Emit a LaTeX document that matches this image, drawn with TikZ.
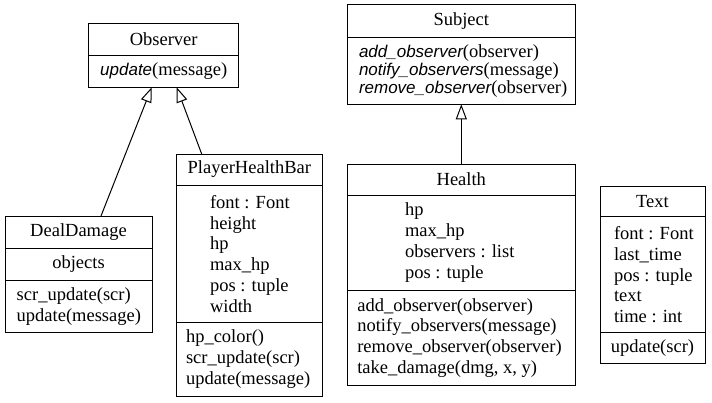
\documentclass[tikz,border=0pt]{standalone}
\usepackage{fontspec}
\setmainfont{Liberation Serif}
\newfontfamily\itfam{Liberation Sans}
\usetikzlibrary{arrows.meta,calc}
\newcommand\slnt[1]{{\itfam\itshape\fontsize{17}{18}\selectfont #1}}
\begin{document}
\begin{tikzpicture}[x=1pt,y=-1pt,line width=1pt,
  every node/.style={font=\fontsize{18.5}{20.8}\selectfont},
  part/.style 2 args={draw, inner sep=0pt, outer sep=0pt, anchor=north west,
    minimum width=#1, minimum height=#2},
  lines/.style={inner sep=0pt, outer sep=0pt, anchor=west, align=left},
  inh/.style={-{Triangle[open,length=15pt,width=11pt]}}]
\fill[white] (0,0) rectangle (712,402);
\useasboundingbox (0,0) rectangle (712,402);

% Observer
\node[part={150}{32}] (obsh) at (88.7,23.3) {Observer};
\node[part={150}{32}] (obsm) at (88.7,55.3) {\slnt{update}(message)};

% DealDamage
\node[part={147}{32.3}] (ddh) at (5,216) {DealDamage};
\node[part={147}{31.7}] (dda) at (5,248.3) {objects};
\node[part={147}{52.7}] (ddm) at (5,280) {};
\node[lines] (ddmt) at (16.7,306.3) {scr\_update(scr)\\update(message)};

% PlayerHealthBar
\node[part={146.7}{31}] (phbh) at (176,154) {PlayerHealthBar};
\node[part={146.7}{137.7}] (phba) at (176,185) {};
\node[lines] (phbat) at (210,253.8) {font : Font\\height\\hp\\max\_hp\\pos : tuple\\width};
\node[part={146.7}{73.3}] (phbm) at (176,322.7) {};
\node[lines] (phbmt) at (186,359.3) {hp\_color()\\scr\_update(scr)\\update(message)};

% Subject
\node[part={228}{32.6}] (subh) at (347.3,4.7) {Subject};
\node[part={228}{67}] (subm) at (347.3,37.3) {};
\node[lines,font=\fontsize{18.5}{17.8}\selectfont] (submt) at (359,70.8)
  {\slnt{add\_observer}(observer)\\\slnt{notify\_observers}(message)\\\slnt{remove\_observer}(observer)};

% Health
\node[part={228}{31}] (hh) at (347.3,164) {Health};
\node[part={228}{95}] (ha) at (347.3,195) {};
\node[lines] (hat) at (405,242.5) {hp\\max\_hp\\observers : list\\pos : tuple};
\node[part={228}{95.7}] (hm) at (347.3,290) {};
\node[lines] (hmt) at (357.3,337.8) {add\_observer(observer)\\notify\_observers(message)\\remove\_observer(observer)\\take\_damage(dmg, x, y)};

% Text
\node[part={105}{30.7}] (th) at (600,186) {Text};
\node[part={105}{116}] (ta) at (600,216.7) {};
\node[lines] (tat) at (614,274.7) {font : Font\\last\_time\\pos : tuple\\text\\time : int};
\node[part={105}{30.6}] (tm) at (600,332.7) {update(scr)};

% inheritance
\draw[inh] ($(ddh.north west)+(96,0)$) -- ($(obsm.south west)+(63,0)$);
\draw[inh] ($(phbh.north west)+(25.7,0)$) -- ($(obsm.south west)+(88,0)$);
\draw[inh] (hh.north) -- (subm.south);
\end{tikzpicture}
\end{document}
